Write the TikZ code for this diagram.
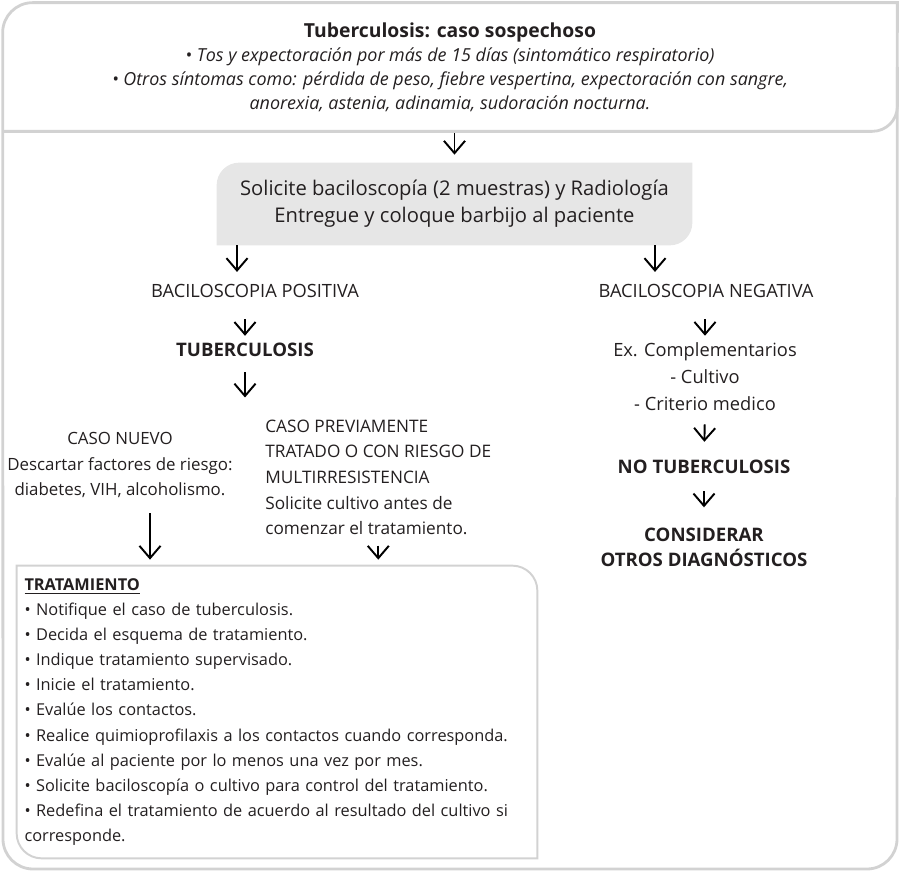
\documentclass[tikz,border=0pt]{standalone}
\usepackage{fontspec}
\setmainfont{Open Sans}
\usetikzlibrary{arrows.meta,positioning,backgrounds}
\definecolor{marco}{HTML}{D2D2D2}
\definecolor{fondogris}{HTML}{E6E6E6}
\definecolor{tinta}{HTML}{231F20}

\begin{document}
\begin{tikzpicture}[
    every node/.style={font=\fontsize{10.4}{15.3}\selectfont, inner sep=0pt, text=tinta},
    texto/.style={align=center},
    negrita/.style={align=center, font=\fontsize{10.6}{14.2}\selectfont\bfseries},
    flecha/.style={
        line width=1.1pt,
        -{Straight Barb[length=7pt,width=12pt]},
        shorten <=1mm,
        shorten >=1.5mm
    },
    borde/.style={draw=marco, line width=1.6pt}
]

\useasboundingbox (0,0) rectangle (18,-17.44);

% Caso sospechoso
\node[texto, font=\fontsize{10.2}{13.6}\selectfont, minimum width=17.88cm, minimum height=2.56cm] (sospecha) at (9,-1.34) {
    {\fontsize{11}{13.6}\selectfont\textbf{Tuberculosis: caso sospechoso}}\\
    \textit{• Tos y expectoración por más de 15 días (sintomático respiratorio)}\\
    \textit{• Otros síntomas como: pérdida de peso, fiebre vespertina, expectoración con sangre,}\\
    \textit{anorexia, astenia, adinamia, sudoración nocturna.}
};

% Marco exterior
\draw[borde] (sospecha.north east) [rounded corners=0.6cm] -- (sospecha.north west)
    -- (0.06,-17.38) -- (17.94,-17.38) [sharp corners] -- cycle;
\draw[borde] (sospecha.south west) [rounded corners=0.5cm] -- (sospecha.south east)
    [sharp corners] -- (sospecha.east);

% Solicitud
\node[texto, font=\fontsize{11.5}{15.3}\selectfont, minimum width=9.5cm, minimum height=1.64cm] (solicite) at (9.09,-4.08) {
    Solicite baciloscopía (2 muestras) y Radiología\\
    Entregue y coloque barbijo al paciente
};
\begin{scope}[on background layer]
    \fill[fondogris] (solicite.south west) [rounded corners=0.45cm] -- (solicite.north west)
        [sharp corners] -- (solicite.north east) [rounded corners=0.45cm] -- (solicite.south east)
        [sharp corners] -- cycle;
\end{scope}

\coordinate (izq) at (4.74,0);
\coordinate (der) at (13.1,0);
\coordinate (largo) at (3.0,0);

% Rama positiva
\node[texto] (positiva) at (5.1,-5.82) {BACILOSCOPIA POSITIVA};
\node[negrita] (tuberculosis) at (4.9,-7.0) {TUBERCULOSIS};
\coordinate (bifurca) at (4.9,-7.95);
\node[texto, font=\fontsize{9.6}{14.6}\selectfont] (nuevo) at (2.4,-9.3) {
    CASO NUEVO\\
    Descartar factores de riesgo:\\
    diabetes, VIH, alcoholismo.
};
\node[align=left, anchor=west, font=\fontsize{9.8}{14.6}\selectfont] (previo) at (5.3,-9.55) {
    CASO PREVIAMENTE\\
    TRATADO O CON RIESGO DE\\
    MULTIRRESISTENCIA\\
    Solicite cultivo antes de\\
    comenzar el tratamiento.
};

% Rama negativa
\node[texto] (negativa) at (14.12,-5.82) {BACILOSCOPIA NEGATIVA};
\node[texto] (complementarios) at (14.1,-7.54) {
    Ex. Complementarios\\
    - Cultivo\\
    - Criterio medico
};
\node[negrita] (notb) at (14.08,-9.34) {NO TUBERCULOSIS};
\node[negrita] (considerar) at (14.08,-10.94) {
    CONSIDERAR\\
    OTROS DIAGNÓSTICOS
};

% Tratamiento
\node[align=left, text width=10.1cm, minimum width=10.4cm, minimum height=5.84cm, font=\fontsize{9.3}{14.3}\selectfont] (tratamiento) at (5.54,-14.24) {
    \underline{\textbf{TRATAMIENTO}}\\
    • Notifique el caso de tuberculosis.\\
    • Decida el esquema de tratamiento.\\
    • Indique tratamiento supervisado.\\
    • Inicie el tratamiento.\\
    • Evalúe los contactos.\\
    • Realice quimioprofilaxis a los contactos cuando corresponda.\\
    • Evalúe al paciente por lo menos una vez por mes.\\
    • Solicite baciloscopía o cultivo para control del tratamiento.\\
    • Redefina el tratamiento de acuerdo al resultado del cultivo si\\
    corresponde.
};
\draw[draw=marco, line width=1.1pt] (tratamiento.north west) [rounded corners=0.5cm] -- (tratamiento.north east)
    [sharp corners] -- (tratamiento.south east) [rounded corners=0.5cm] -- (tratamiento.south west)
    [sharp corners] -- cycle;

% Flechas
\draw[flecha, shorten <=0.04cm, shorten >=0.16cm] (sospecha.south -| solicite.north) -- (solicite.north);
\draw[flecha, shorten <=0cm, shorten >=0.24cm] (solicite.south -| izq) -- (positiva.north -| izq);
\draw[flecha, shorten <=0cm, shorten >=0.24cm] (solicite.south -| der) -- (negativa.north -| der);
\draw[flecha, shorten <=0.42cm, shorten >=0.14cm] (positiva.south -| tuberculosis) -- (tuberculosis.north);
\draw[flecha, shorten <=0.3cm, shorten >=0cm] (tuberculosis.south) -- (bifurca);
\draw[flecha, shorten <=0.3cm, shorten >=0.12cm] (nuevo.south -| largo) -- (tratamiento.north -| largo);
\draw[flecha, shorten <=0.2cm, shorten >=0.12cm] (previo.south) -- (tratamiento.north -| previo.south);
\draw[flecha, shorten <=0.42cm, shorten >=0.14cm] (negativa.south -| complementarios) -- (complementarios.north);
\draw[flecha, shorten <=0.26cm, shorten >=0.36cm] (complementarios.south) -- (notb.north);
\draw[flecha, shorten <=0.34cm, shorten >=0.4cm] (notb.south) -- (considerar.north);

\end{tikzpicture}
\end{document}
